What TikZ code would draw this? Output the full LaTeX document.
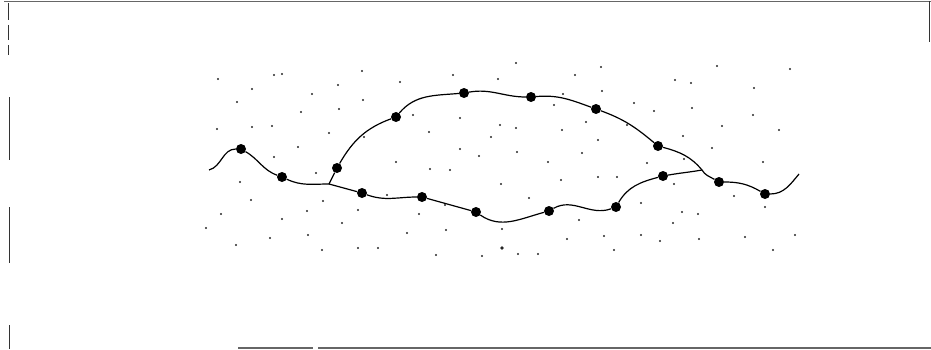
\documentclass[tikz,border=0pt]{standalone}
\tikzset{
  bead/.style={circle, fill=black, inner sep=0pt, minimum size=10pt},
  speck/.style={fill=black!85},
  strand/.style={line width=1.2pt, black},
  rim/.style={line width=1.4pt, black!60},
}
\begin{document}
\begin{tikzpicture}[x=1pt, y=1pt]
    \useasboundingbox (0,0) rectangle (931,349);

    % frame
    \draw[rim] (4,347.5) -- (931,347.5);
    \draw[rim] (238,1) -- (313,1) (318,1) -- (931,1);
    \draw[rim, black!80] (929.5,348) -- (929.5,307);
    \draw[rim, black!80] (8.5,346) -- (8.5,329) (8.5,324) -- (8.5,309) (8.5,304) -- (8.5,294);
    \draw[line width=1pt, black!80] (9,252) -- (9,189) (9,142) -- (9,86) (9,24) -- (9,0);

    % scattered specks
    \foreach \x/\y in {218/79, 274/75, 282/74, 362/71, 400/82, 252/89, 338/85, 312/94,
        237/102, 363/100, 301/112, 339/109, 217/129, 252/127, 272/126, 329/133,
        364/137, 298/147, 274/157, 516/63, 453/75, 498/79, 575/75, 601/67, 602/91,
        563/94, 554/105, 413/115, 460/118, 586/122, 500/125, 516/128, 429/132,
        562/130, 491/137, 598/140, 460/149, 479/156, 517/152, 582/153, 717/66,
        790/69, 675/80, 691/83, 754/88, 634/103, 654/111, 692/108, 753/115,
        627/125, 722/126, 779/130, 683/136, 712/148, 684/159, 396/162, 316/173,
        240/182, 387/195, 251/200, 323/201, 307/211, 358/210, 221/214, 282/219,
        342/223, 206/228, 308/235, 270/238, 236/245, 322/250, 358/248, 378/248,
        430/169, 450/170, 548/162, 501/184, 561/180, 598/177, 529/198, 445/205,
        419/214, 579/220, 407/233, 446/230, 502/229, 567/239, 604/236, 436/255,
        482/256, 518/254, 538/254, 647/163, 763/162, 617/177, 674/184, 641/203,
        734/196, 765/207, 682/212, 698/214, 673/223, 641/235, 660/241, 699/239,
        745/237, 795/235, 614/250, 773/250}
        \fill[speck] (\x,{349-\y}) circle (1.1);
    \fill[speck] (502,101) circle (1.8);

    % beads on the strands
    \coordinate (s) at (209,179);
    \node[bead] (a1) at (241,200) {};
    \node[bead] (a2) at (282,172) {};
    \coordinate (j1) at (329,165);
    \node[bead] (u1) at (337,181) {};
    \node[bead] (u2) at (396,232) {};
    \node[bead] (u3) at (464,256) {};
    \node[bead] (u4) at (531,252) {};
    \node[bead] (u5) at (596,240) {};
    \node[bead] (u6) at (658,203) {};
    \coordinate (j2) at (702,179);
    \node[bead] (l1) at (362,156) {};
    \node[bead] (l2) at (422,152) {};
    \node[bead] (l3) at (476,137) {};
    \node[bead] (l4) at (549,138) {};
    \node[bead] (l5) at (616,142) {};
    \node[bead] (l6) at (663,173) {};
    \node[bead] (r1) at (719,167) {};
    \node[bead] (r2) at (765,155) {};
    \coordinate (e) at (799,175);

    \draw[strand] (s) to[out=15, in=180] (a1)
        to[out=-30, in=160] (a2)
        to[out=-25, in=180] (j1);
    \draw[strand] (j1) -- (u1)
        to[out=60, in=200] (u2)
        to[out=50, in=185] (u3)
        to[out=10, in=180] (u4)
        to[out=5, in=160] (u5)
        to[out=-20, in=140] (u6)
        to[out=-15, in=130] (j2)
        to[out=-60, in=150] (r1)
        to[out=0, in=150] (r2)
        to[out=0, in=230] (e);
    \draw[strand] (j1) -- (l1)
        to[out=-20, in=180] (l2)
        -- (l3)
        to[out=-35, in=195] (l4)
        to[out=30, in=200] (l5)
        to[out=60, in=195] (l6)
        to[out=10, in=190] (j2);
\end{tikzpicture}
\end{document}
